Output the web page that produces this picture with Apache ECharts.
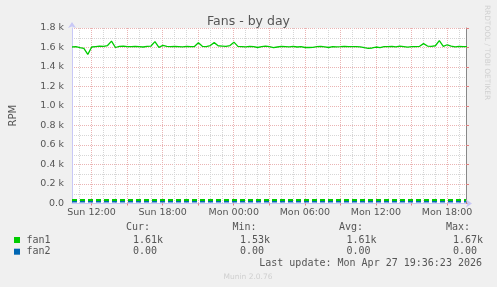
<!DOCTYPE html>
<html><head><meta charset="utf-8">
<script src="https://cdn.jsdelivr.net/npm/echarts@6/dist/echarts.min.js"></script>
<style>html,body{margin:0;padding:0;background:#f0f0f0}#c{width:497px;height:287px}</style>
</head><body><div id="c"></div>
<script>
// ---- data ----
const title = 'Fans - by day';
const xMin = 10.35, xMax = 43.6;             // hours since Sun 00:00
const startHour = 10.35, stepHour = 1 / 3;   // 20-minute samples
const fan1 = [1605,1608,1598,1590,1530,1605,1610,1615,1612,1620,
  1665,1600,1612,1615,1608,1610,1612,1610,1605,1612,
  1615,1660,1602,1622,1612,1608,1612,1610,1606,1612,
  1610,1610,1648,1612,1610,1620,1650,1618,1615,1612,
  1620,1655,1612,1610,1606,1612,1610,1600,1610,1614,
  1608,1598,1605,1612,1610,1606,1612,1605,1610,1600,
  1600,1602,1610,1612,1606,1600,1610,1606,1608,1612,
  1610,1608,1610,1606,1598,1592,1595,1605,1598,1608,
  1610,1612,1606,1614,1610,1604,1608,1610,1612,1640,
  1615,1612,1618,1670,1612,1628,1615,1606,1612,1610,1610];
const fan2Times = [10.35, 43.6];
const fan2 = [37, 37];
const xLabelValues = [12, 18, 24, 30, 36, 42];
const xLabelTexts = ['Sun 12:00', 'Sun 18:00', 'Mon 00:00', 'Mon 06:00', 'Mon 12:00', 'Mon 18:00'];
const xMajorValues = [12, 15, 18, 21, 24, 27, 30, 33, 36, 39, 42];
const xMinorValues = [11, 13, 14, 16, 17, 19, 20, 22, 23, 25, 26, 28, 29, 31, 32, 34, 35, 37, 38, 40, 41, 43];
const legendNames = ['fan1', 'fan2'];
const legendColors = ['#00cc00', '#0066b3'];
const statHeads = ['Cur:', 'Min:', 'Avg:', 'Max:'];
const statRows = [['1.61k', '1.53k', '1.61k', '1.67k'], ['0.00', '0.00', '0.00', '0.00']];
const lastUpdate = 'Last update: Mon Apr 27 19:36:23 2026';
const footer = 'Munin 2.0.76';
const sideText = 'RRDTOOL / TOBI OETIKER';

// ---- chart ----
const times = fan1.map((_, i) => startHour + i * stepHour);
const chart = echarts.init(document.getElementById('c'), null, {renderer: 'canvas'});
const F = 'DejaVu Sans', M = 'DejaVu Sans Mono', TC = '#555';
const majorGrid = {show: true, lineStyle: {color: '#eab4b4', type: [1, 1], width: 1}};
const minorGrid = {show: true, lineStyle: {color: '#d6d6d6', type: [1, 1], width: 1}};

const headX = [150, 256.5, 363, 470];
const valX = [133, 240, 346.5, 453];
const graphics = [];
legendNames.forEach((n, i) => {
  const y = 240 + i * 11.7;
  graphics.push({type: 'rect', shape: {x: 14, y: y - 3, width: 6, height: 6}, style: {fill: legendColors[i]}});
  graphics.push({type: 'text', style: {text: n, x: 26.5, y: y, font: '10px ' + M, fill: TC, align: 'left', verticalAlign: 'middle'}});
  statRows[i].forEach((v, j) => graphics.push({type: 'text', style: {text: v, x: valX[j], y: y, font: '10px ' + M, fill: TC, align: 'left', verticalAlign: 'middle'}}));
});
statHeads.forEach((h, j) => graphics.push({type: 'text', style: {text: h, x: headX[j], y: 227.5, font: '10px ' + M, fill: TC, align: 'right', verticalAlign: 'middle'}}));
graphics.push({type: 'text', style: {text: lastUpdate, x: 482, y: 263.5, font: '10px ' + M, fill: TC, align: 'right', verticalAlign: 'middle'}});
graphics.push({type: 'text', style: {text: footer, x: 248, y: 277, font: '7.5px ' + F, fill: '#cfcfcf', align: 'center', verticalAlign: 'middle'}});
graphics.push({type: 'text', x: 487, y: 52.5, rotation: -Math.PI / 2, style: {text: sideText, x: 0, y: 0, font: '7.4px ' + F, fill: '#d0d0d0', align: 'center', verticalAlign: 'middle'}});

chart.setOption({
  animation: false,
  backgroundColor: '#f0f0f0',
  title: {text: title, left: 'center', top: 10, textStyle: {fontFamily: F, fontSize: 12.5, fontWeight: 'normal', color: TC}},
  grid: {left: 67, right: 31, top: 28, bottom: 83.5, show: true, backgroundColor: '#ffffff', borderWidth: 0},
  xAxis: [
    {type: 'value', min: xMin, max: xMax, position: 'top',
      axisLine: {show: false}, axisLabel: {show: false},
      axisTick: {show: false, customValues: xMinorValues},
      splitLine: minorGrid},
    {type: 'value', min: xMin, max: xMax, position: 'bottom',
      axisLine: {show: true, onZero: false, lineStyle: {color: '#c8c8f6', width: 1}, symbol: ['none', 'arrow'], symbolSize: [6, 6], symbolOffset: [0, 6]},
      axisTick: {show: true, customValues: xMajorValues, length: 2, lineStyle: {color: '#e08080'}},
      axisLabel: {customValues: xLabelValues, formatter: v => xLabelTexts[xLabelValues.indexOf(v)], fontFamily: F, fontSize: 9.5, color: TC, margin: 4},
      splitLine: majorGrid}
  ],
  yAxis: [
    {type: 'value', min: 0, max: 1800, interval: 200, position: 'left',
      name: 'RPM', nameLocation: 'middle', nameGap: 54, nameRotate: 90, nameTextStyle: {fontFamily: F, fontSize: 10, color: TC},
      axisLine: {show: true, onZero: false, lineStyle: {color: '#c8c8f6', width: 1}, symbol: ['none', 'arrow'], symbolSize: [6, 6], symbolOffset: [0, 6]},
      axisTick: {show: false},
      axisLabel: {formatter: v => v === 0 ? '0.0' : (v / 1000).toFixed(1) + ' k', fontFamily: F, fontSize: 9.5, color: TC, margin: 8},
      splitLine: majorGrid,
      minorTick: {show: false, splitNumber: 2},
      minorSplitLine: minorGrid},
    {type: 'value', min: 0, max: 1800, interval: 200, position: 'right',
      axisLine: {show: true, lineStyle: {color: '#888', width: 1}},
      axisTick: {show: true, length: 3, lineStyle: {color: '#e08080'}},
      axisLabel: {show: false}, splitLine: {show: false}}
  ],
  series: [
    {type: 'line', name: 'fan2', xAxisIndex: 1, data: fan2Times.map((t, i) => [t, fan2[i]]), showSymbol: false,
      lineStyle: {color: '#00cc00', width: 2, type: [5, 3], shadowColor: '#0066b3', shadowOffsetY: 1.5, shadowBlur: 0}},
    {type: 'line', name: 'fan1', xAxisIndex: 1, data: times.map((t, i) => [t, fan1[i]]), showSymbol: false,
      lineStyle: {color: '#00cc00', width: 1.3}}
  ],
  graphic: graphics
});
</script></body></html>
